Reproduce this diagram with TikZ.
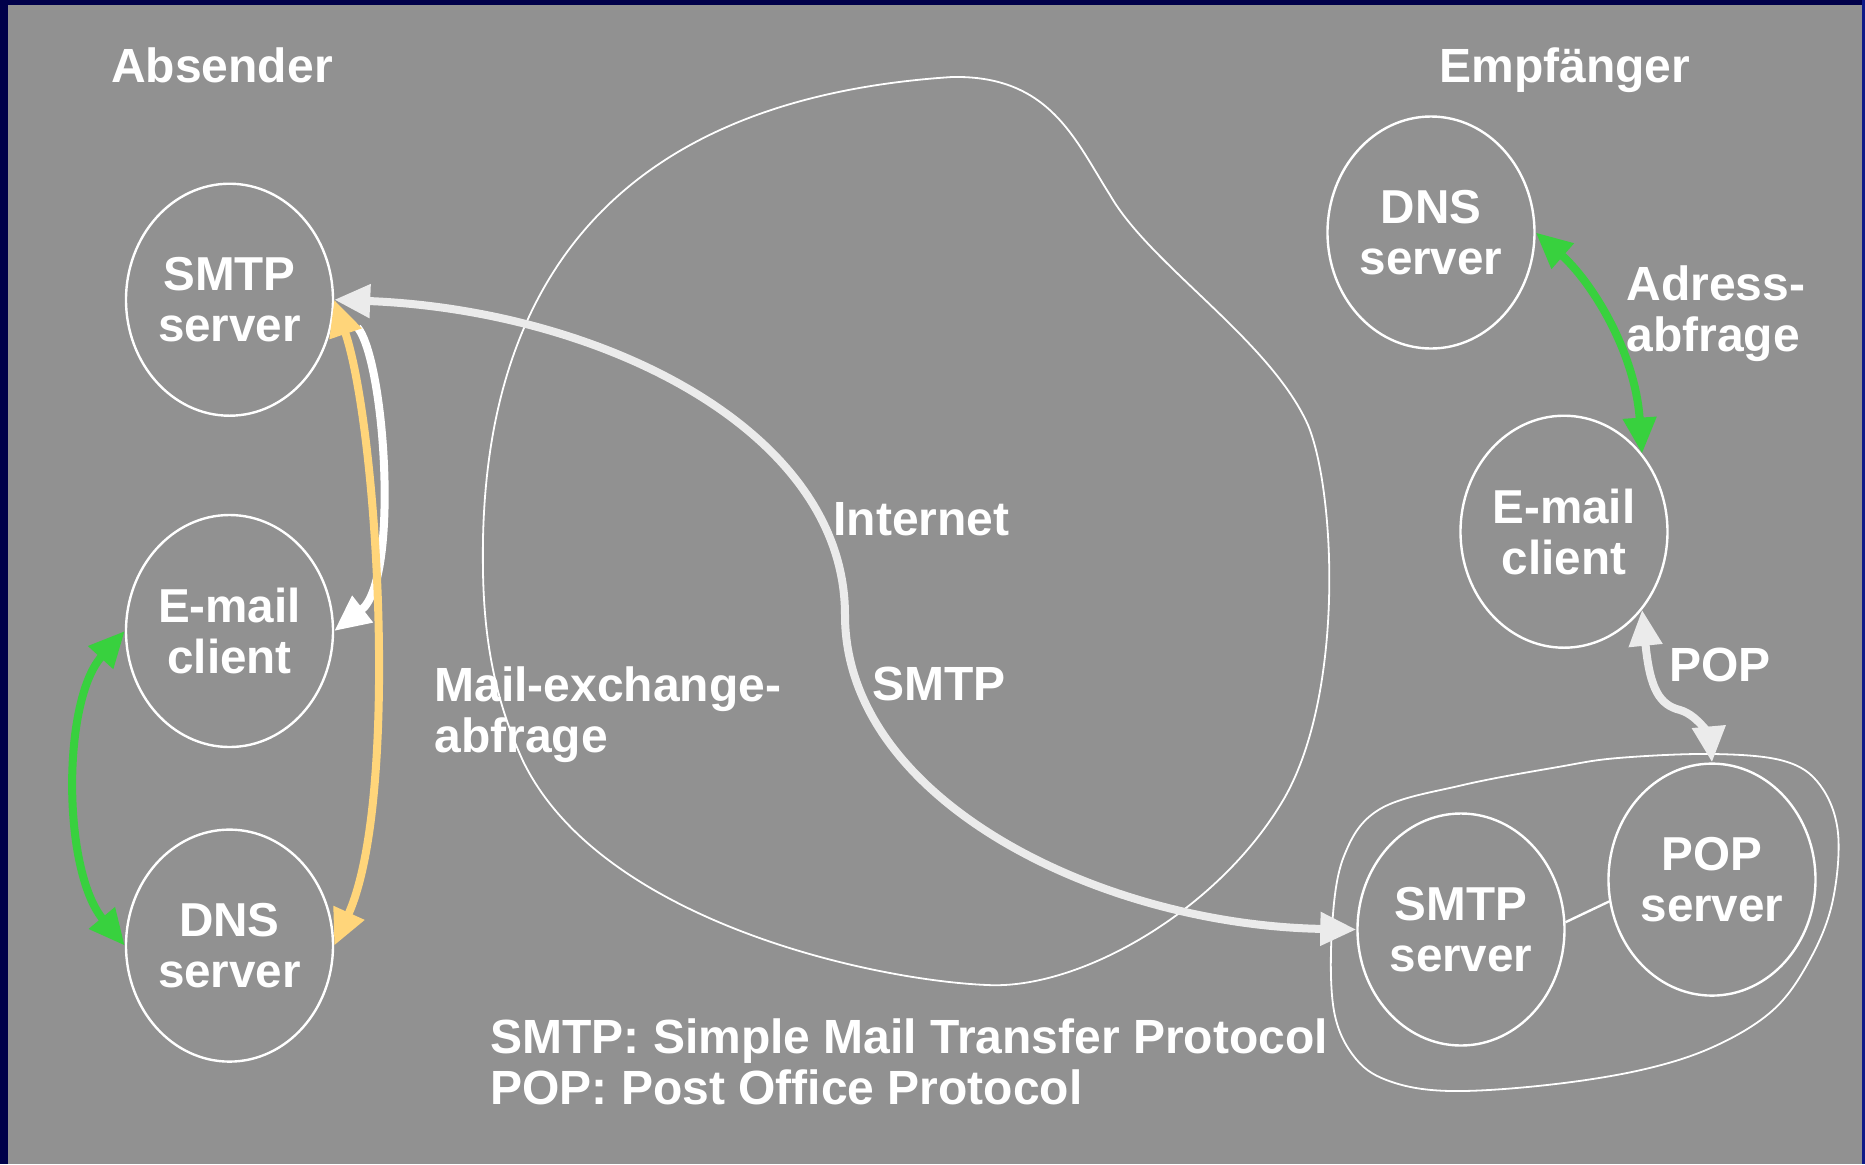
\documentclass[tikz,border=0pt]{standalone}
\usepackage{fontspec}
\setmainfont{Liberation Sans}
\usetikzlibrary{shapes.geometric,arrows.meta}
\definecolor{bgray}{HTML}{919191}
\definecolor{navyL}{HTML}{00004A}
\definecolor{navyR}{HTML}{0F1A88}
\definecolor{lgray}{HTML}{EBEBEB}
\definecolor{ylw}{HTML}{FFD57A}
\definecolor{grn}{HTML}{38D13E}
\begin{document}
\begin{tikzpicture}[x=0.5pt,y=-0.5pt,
  >={Triangle[length=18pt,width=16pt]},
  srv/.style={ellipse,draw=white,line width=1.2pt,minimum width=103.5pt,minimum height=116pt,inner sep=0pt,align=center,text=white,font=\bfseries\fontsize{23.8}{25.5}\selectfont},
  lbl/.style={text=white,font=\bfseries\fontsize{24}{25.5}\selectfont,inner sep=0pt,align=left},
  conn/.style={line width=4pt},
  outline/.style={draw=white,line width=0.9pt}]
\useasboundingbox (0,0) rectangle (1865,1164);
\fill[navyL] (0,0) rectangle (1865,1164);
\fill[navyR] (1862,0) rectangle (1865,1164);
\fill[bgray] (8,5) rectangle (1862,1164);

% Internet cloud
\draw[outline] (483,571) .. controls (478,300) and (600,100) .. (952,77)
  .. controls (1050,75) and (1075,140) .. (1110,195)
  .. controls (1150,265) and (1270,340) .. (1308,425)
  .. controls (1335,490) and (1345,690) .. (1285,797)
  .. controls (1220,910) and (1080,990) .. (987,985)
  .. controls (870,980) and (600,920) .. (523,761)
  .. controls (495,700) and (484,640) .. cycle;

% receiver enclosure
\draw[outline] plot[smooth cycle,tension=0.6] coordinates{
 (1332,928) (1344,856) (1380,809) (1463,785) (1558,767) (1618,758) (1713,754) (1784,761) (1820,785) (1838,833) (1832,904) (1808,963) (1772,1011) (1713,1047) (1641,1070) (1547,1085) (1451,1091) (1392,1082) (1356,1059) (1334,1011)};

% servers
\node[srv] (smtpL) at (229.5,299.7) {SMTP\\server};
\node[srv] (emailL) at (229.5,631) {E-mail\\client};
\node[srv] (dnsL) at (229.5,945.6) {DNS\\server};
\node[srv] (dnsR) at (1431,232.5) {DNS\\server};
\node[srv] (emailR) at (1564,531.7) {E-mail\\client};
\node[srv] (smtpR) at (1461,929.5) {SMTP\\server};
\node[srv] (popS) at (1712,879.6) {POP\\server};

% labels
\node[lbl,anchor=base] (absender) at (222,82) {Absender};
\node[lbl,anchor=base] (empf) at (1565,82) {Empfänger};
\node[lbl,anchor=base west] (internet) at (833,535) {Internet};
\node[lbl,anchor=base west] (smtplbl) at (872,700) {SMTP};
\node[lbl,anchor=base west] (mx) at (434,752) {Mail-exchange-\\abfrage};
\node[lbl,anchor=base west] (adr) at (1626,351) {Adress-\\abfrage};
\node[lbl,anchor=base west] (poplbl) at (1669,681) {POP};
\node[lbl,anchor=base west] (legend) at (490,1104) {SMTP: Simple Mail Transfer Protocol\\POP: Post Office Protocol};

% connectors
\draw[conn,lgray,<->] (smtpL.east) .. controls (600,310) and (845,430) .. (845,615)
   .. controls (845,800) and (1100,925) .. (smtpR.west);
\draw[conn,white,->,shorten <=18pt] (smtpL.east) .. controls (385,360) and (400,580) .. (emailL.east);
\draw[conn,ylw,<->] (smtpL.east) .. controls (378,430) and (400,800) .. (dnsL.east);
\draw[conn,grn,<->] (emailL.west) .. controls (62,700) and (62,870) .. (dnsL.west);
\draw[conn,grn,<->] (dnsR.east) .. controls (1590,280) and (1635,350) .. (emailR.45);
\draw[conn,lgray,<->] (emailR.-45) .. controls (1650,690) and (1660,705) .. (1680,710)
   .. controls (1700,716) and (1710,740) .. (popS.north);
\draw[white,line width=1.2pt] (smtpR.4) -- (popS.192);
\end{tikzpicture}
\end{document}
